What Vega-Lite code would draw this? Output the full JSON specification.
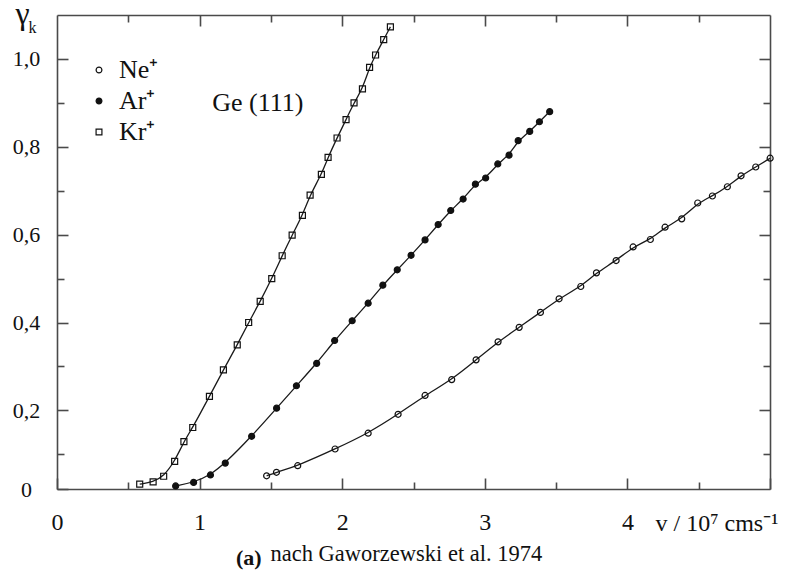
{
  "$schema": "https://vega.github.io/schema/vega-lite/v6.json",
  "width": 713,
  "height": 474,
  "autosize": {"type": "none"},
  "padding": {"left": 57, "top": 15, "right": 18, "bottom": 83},
  "background": "white",
  "title": {"text": "(a)", "orient": "bottom", "anchor": "start", "frame": "group", "dx": 179, "offset": 0, "font": "Liberation Serif", "fontSize": 22, "fontWeight": "bold", "baseline": "alphabetic", "color": "#111"},
  "config": {"view": {"stroke": null}},
  "data": {"values": [
    {"ion": "Ne\u207a", "v": 1.470, "g": 0.051}, {"ion": "Ne\u207a", "v": 1.539, "g": 0.059}, {"ion": "Ne\u207a", "v": 1.688, "g": 0.074}, {"ion": "Ne\u207a", "v": 1.950, "g": 0.112}, {"ion": "Ne\u207a", "v": 2.182, "g": 0.148}, {"ion": "Ne\u207a", "v": 2.392, "g": 0.191}, {"ion": "Ne\u207a", "v": 2.581, "g": 0.234}, {"ion": "Ne\u207a", "v": 2.768, "g": 0.270}, {"ion": "Ne\u207a", "v": 2.939, "g": 0.315}, {"ion": "Ne\u207a", "v": 3.093, "g": 0.356}, {"ion": "Ne\u207a", "v": 3.241, "g": 0.389}, {"ion": "Ne\u207a", "v": 3.390, "g": 0.423}, {"ion": "Ne\u207a", "v": 3.521, "g": 0.454}, {"ion": "Ne\u207a", "v": 3.673, "g": 0.482}, {"ion": "Ne\u207a", "v": 3.783, "g": 0.513}, {"ion": "Ne\u207a", "v": 3.921, "g": 0.541}, {"ion": "Ne\u207a", "v": 4.040, "g": 0.572}, {"ion": "Ne\u207a", "v": 4.161, "g": 0.589}, {"ion": "Ne\u207a", "v": 4.264, "g": 0.617}, {"ion": "Ne\u207a", "v": 4.381, "g": 0.636}, {"ion": "Ne\u207a", "v": 4.493, "g": 0.672}, {"ion": "Ne\u207a", "v": 4.596, "g": 0.688}, {"ion": "Ne\u207a", "v": 4.701, "g": 0.709}, {"ion": "Ne\u207a", "v": 4.797, "g": 0.734}, {"ion": "Ne\u207a", "v": 4.900, "g": 0.754}, {"ion": "Ne\u207a", "v": 5.001, "g": 0.774},
    {"ion": "Ar\u207a", "v": 0.832, "g": 0.028}, {"ion": "Ar\u207a", "v": 0.958, "g": 0.036}, {"ion": "Ar\u207a", "v": 1.076, "g": 0.053}, {"ion": "Ar\u207a", "v": 1.180, "g": 0.080}, {"ion": "Ar\u207a", "v": 1.365, "g": 0.141}, {"ion": "Ar\u207a", "v": 1.540, "g": 0.205}, {"ion": "Ar\u207a", "v": 1.679, "g": 0.256}, {"ion": "Ar\u207a", "v": 1.821, "g": 0.307}, {"ion": "Ar\u207a", "v": 1.947, "g": 0.359}, {"ion": "Ar\u207a", "v": 2.070, "g": 0.404}, {"ion": "Ar\u207a", "v": 2.182, "g": 0.444}, {"ion": "Ar\u207a", "v": 2.285, "g": 0.485}, {"ion": "Ar\u207a", "v": 2.386, "g": 0.520}, {"ion": "Ar\u207a", "v": 2.483, "g": 0.553}, {"ion": "Ar\u207a", "v": 2.581, "g": 0.588}, {"ion": "Ar\u207a", "v": 2.673, "g": 0.623}, {"ion": "Ar\u207a", "v": 2.761, "g": 0.655}, {"ion": "Ar\u207a", "v": 2.848, "g": 0.681}, {"ion": "Ar\u207a", "v": 2.934, "g": 0.715}, {"ion": "Ar\u207a", "v": 3.006, "g": 0.729}, {"ion": "Ar\u207a", "v": 3.091, "g": 0.761}, {"ion": "Ar\u207a", "v": 3.170, "g": 0.781}, {"ion": "Ar\u207a", "v": 3.234, "g": 0.814}, {"ion": "Ar\u207a", "v": 3.315, "g": 0.835}, {"ion": "Ar\u207a", "v": 3.383, "g": 0.857}, {"ion": "Ar\u207a", "v": 3.455, "g": 0.880},
    {"ion": "Kr\u207a", "v": 0.580, "g": 0.032}, {"ion": "Kr\u207a", "v": 0.674, "g": 0.037}, {"ion": "Kr\u207a", "v": 0.748, "g": 0.050}, {"ion": "Kr\u207a", "v": 0.825, "g": 0.084}, {"ion": "Kr\u207a", "v": 0.890, "g": 0.129}, {"ion": "Kr\u207a", "v": 0.952, "g": 0.161}, {"ion": "Kr\u207a", "v": 1.069, "g": 0.232}, {"ion": "Kr\u207a", "v": 1.167, "g": 0.292}, {"ion": "Kr\u207a", "v": 1.264, "g": 0.349}, {"ion": "Kr\u207a", "v": 1.344, "g": 0.400}, {"ion": "Kr\u207a", "v": 1.425, "g": 0.448}, {"ion": "Kr\u207a", "v": 1.506, "g": 0.500}, {"ion": "Kr\u207a", "v": 1.579, "g": 0.552}, {"ion": "Kr\u207a", "v": 1.649, "g": 0.599}, {"ion": "Kr\u207a", "v": 1.721, "g": 0.644}, {"ion": "Kr\u207a", "v": 1.775, "g": 0.690}, {"ion": "Kr\u207a", "v": 1.854, "g": 0.737}, {"ion": "Kr\u207a", "v": 1.901, "g": 0.776}, {"ion": "Kr\u207a", "v": 1.964, "g": 0.820}, {"ion": "Kr\u207a", "v": 2.027, "g": 0.862}, {"ion": "Kr\u207a", "v": 2.083, "g": 0.900}, {"ion": "Kr\u207a", "v": 2.142, "g": 0.932}, {"ion": "Kr\u207a", "v": 2.192, "g": 0.981}, {"ion": "Kr\u207a", "v": 2.234, "g": 1.009}, {"ion": "Kr\u207a", "v": 2.291, "g": 1.044}, {"ion": "Kr\u207a", "v": 2.338, "g": 1.073}
  ]},
  "resolve": {"axis": {"x": "independent", "y": "independent"}},
  "layer": [
    {
      "mark": {"type": "line", "interpolate": "basis", "color": "#1a1a1a", "strokeWidth": 1.3, "clip": false},
      "encoding": {
        "x": {"field": "v", "type": "quantitative", "scale": {"domain": [0, 5], "nice": false, "zero": false},
          "axis": {"orient": "bottom", "values": [0, 0.5, 1, 1.5, 2, 2.5, 3, 3.5, 4, 4.5, 5], "grid": false,
            "domainColor": "#4a4a4a", "domainWidth": 1.6, "tickColor": "#4a4a4a", "tickWidth": 1.6,
            "tickSize": {"condition": {"test": "round(datum.value*2) % 2 === 1", "value": -7}, "value": -11},
            "labelExpr": "round(datum.value*2) % 2 === 1 || datum.value > 4.5 ? '' : format(datum.value, 'd')",
            "labelFont": "Liberation Serif", "labelFontSize": 24, "labelColor": "#111", "labelBaseline": "alphabetic", "labelPadding": 51,
            "labelFlush": false, "labelOverlap": false,
            "title": "v / 10\u2077 cms\u207b\u00b9", "titleFont": "Liberation Serif", "titleFontSize": 24, "titleFontWeight": "normal", "titleColor": "#111",
            "titleX": 598, "titleY": 41, "titleAlign": "left", "titleBaseline": "alphabetic", "titleAngle": 0}},
        "y": {"field": "g", "type": "quantitative", "scale": {"domain": [0.021, 1.1], "nice": false, "zero": false},
          "axis": {"orient": "left", "values": [0.021, 0.1, 0.2, 0.3, 0.4, 0.5, 0.6, 0.7, 0.8, 0.9, 1.0], "grid": false,
            "domainColor": "#4a4a4a", "domainWidth": 1.6, "tickColor": "#4a4a4a", "tickWidth": 1.6,
            "tickSize": {"condition": {"test": "round(datum.value*10) % 2 === 1", "value": -7}, "value": -11},
            "labelExpr": "datum.value < 0.05 ? '0' : (round(datum.value*10) % 2 === 1 ? '' : replace(format(datum.value, '.1f'), '.', ','))",
            "labelFont": "Liberation Serif", "labelFontSize": 22, "labelColor": "#111", "labelAlign": "center", "labelBaseline": "middle", "labelPadding": 42,
            "labelFlush": false, "labelOverlap": false,
            "title": "\u03b3", "titleFont": "Liberation Serif", "titleFontSize": 32, "titleFontWeight": "normal", "titleColor": "#111",
            "titleX": -42, "titleY": 8, "titleAlign": "left", "titleBaseline": "alphabetic", "titleAngle": 0}},
        "detail": {"field": "ion"}
      }
    },
    {
      "mark": {"type": "point", "strokeWidth": 1.2, "opacity": 1, "size": 36, "clip": false},
      "encoding": {
        "x": {"field": "v", "type": "quantitative", "scale": {"domain": [0, 5], "nice": false, "zero": false},
          "axis": {"orient": "top", "values": [0.5, 1, 1.5, 2, 2.5, 3, 3.5, 4, 4.5], "grid": false, "labels": false,
            "domainColor": "#4a4a4a", "domainWidth": 1.6, "tickColor": "#4a4a4a", "tickWidth": 1.6,
            "tickSize": {"condition": {"test": "round(datum.value*2) % 2 === 1", "value": -7}, "value": -11},
            "title": "nach Gaworzewski et al. 1974", "titleFont": "Liberation Serif", "titleFontSize": 22.5, "titleFontWeight": "normal", "titleColor": "#111",
            "titleX": 213, "titleY": 545, "titleAlign": "left", "titleBaseline": "alphabetic", "titleAngle": 0}},
        "y": {"field": "g", "type": "quantitative", "scale": {"domain": [0.021, 1.1], "nice": false, "zero": false},
          "axis": {"orient": "right", "values": [0.1, 0.2, 0.3, 0.4, 0.5, 0.6, 0.7, 0.8, 0.9, 1.0], "grid": false, "labels": false,
            "domainColor": "#4a4a4a", "domainWidth": 1.6, "tickColor": "#4a4a4a", "tickWidth": 1.6,
            "tickSize": {"condition": {"test": "round(datum.value*10) % 2 === 1", "value": -7}, "value": -11},
            "title": "k", "titleFont": "Liberation Serif", "titleFontSize": 16, "titleFontWeight": "normal", "titleColor": "#111",
            "titleX": -742, "titleY": 17, "titleAlign": "left", "titleBaseline": "alphabetic", "titleAngle": 0}},
        "shape": {"field": "ion", "type": "nominal", "scale": {"domain": ["Ne\u207a", "Ar\u207a", "Kr\u207a"], "range": ["circle", "circle", "square"]},
          "legend": {"orient": "none", "legendX": 29, "legendY": 42, "title": null, "padding": 0, "labelFont": "Liberation Serif", "labelFontSize": 26, "labelColor": "#111",
            "labelOffset": 7, "rowPadding": 5, "symbolSize": 34, "symbolStrokeWidth": 1.2}},
        "fill": {"field": "ion", "type": "nominal", "scale": {"domain": ["Ne\u207a", "Ar\u207a", "Kr\u207a"], "range": ["transparent", "#111", "transparent"]},
          "legend": {"orient": "none", "legendX": 29, "legendY": 42, "title": null, "padding": 0, "labelFont": "Liberation Serif", "labelFontSize": 26, "labelColor": "#111",
            "labelOffset": 7, "rowPadding": 5, "symbolSize": 34, "symbolStrokeWidth": 1.2}},
        "stroke": {"field": "ion", "type": "nominal", "scale": {"domain": ["Ne\u207a", "Ar\u207a", "Kr\u207a"], "range": ["#111", "#111", "#111"]},
          "legend": {"orient": "none", "legendX": 29, "legendY": 42, "title": null, "padding": 0, "labelFont": "Liberation Serif", "labelFontSize": 26, "labelColor": "#111",
            "labelOffset": 7, "rowPadding": 5, "symbolSize": 34, "symbolStrokeWidth": 1.2}}
      }
    },
    {
      "data": {"values": [{"label": "Ge (111)"}]},
      "mark": {"type": "text", "align": "left", "baseline": "alphabetic", "font": "Liberation Serif", "fontSize": 26, "color": "#111"},
      "encoding": {
        "x": {"datum": 1.089, "type": "quantitative", "axis": null},
        "y": {"datum": 0.8825, "type": "quantitative", "axis": null},
        "text": {"field": "label"}
      }
    }
  ]
}
